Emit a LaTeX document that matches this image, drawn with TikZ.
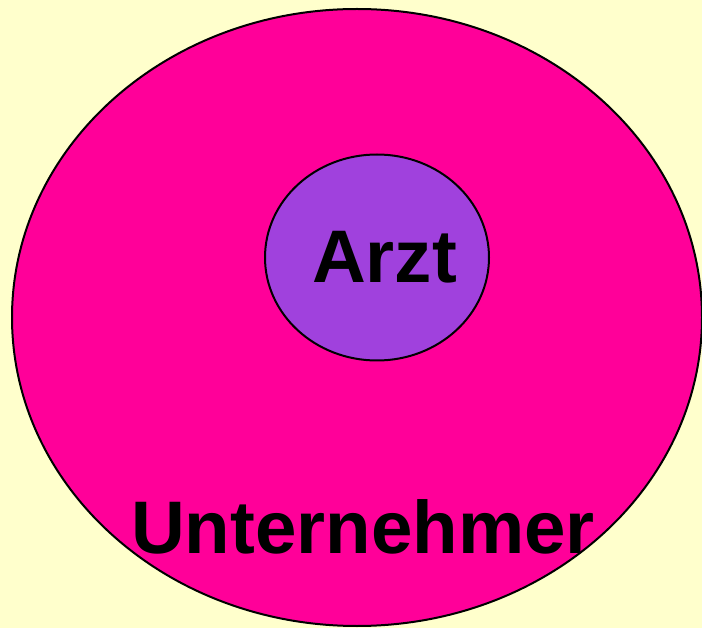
\documentclass[tikz,border=0pt]{standalone}
\usepackage{fontspec}
\setmainfont{Liberation Sans}
\definecolor{bgyellow}{HTML}{FFFFCC}
\definecolor{outermag}{HTML}{FF0099}
\definecolor{innerpurple}{HTML}{A041DD}
\tikzset{
  blob/.style={draw=black, line width=2pt},
  biglabel/.style={anchor=base, inner sep=0pt, font=\fontsize{74.5}{78}\selectfont\bfseries, text=black}
}
\begin{document}
\begin{tikzpicture}[x=1pt,y=-1pt]
\fill[bgyellow] (0,0) rectangle (702,628);
\useasboundingbox (0,0) rectangle (702,628);
\begin{scope}
\clip (0,0) rectangle (702,628);
\draw[blob, fill=outermag] (357,317.5) ellipse [x radius=345, y radius=308.5];
\end{scope}
\draw[blob, fill=innerpurple] (377,257.5) ellipse [x radius=112, y radius=103];
\node[biglabel] (arzt) at (384.5,283) {Arzt};
\node[biglabel] (unternehmer) at (363,553) {Unternehmer};
\end{tikzpicture}
\end{document}
